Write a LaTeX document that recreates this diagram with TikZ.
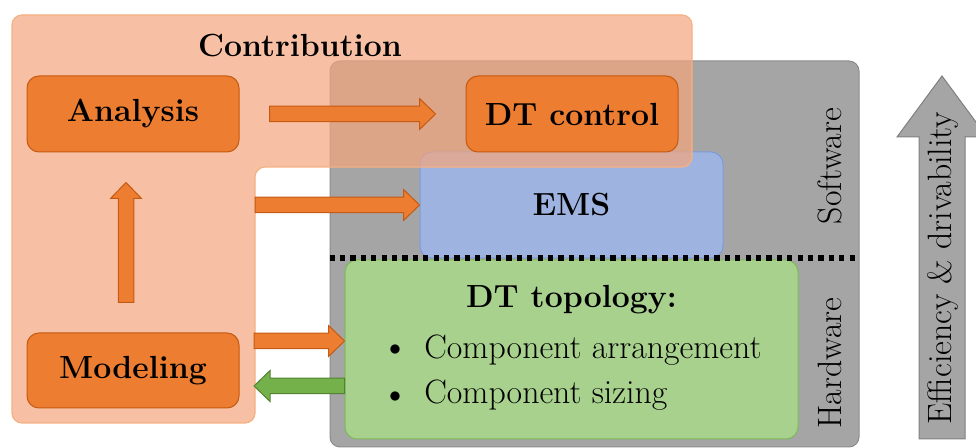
\documentclass[tikz,border=0pt]{standalone}
\usetikzlibrary{calc}

\definecolor{accent}{HTML}{ED7D31}
\definecolor{accentdark}{HTML}{C55A11}
\definecolor{contribfill}{RGB}{244,165,125}
\definecolor{contribline}{HTML}{F4B183}
\definecolor{layergray}{HTML}{A5A5A5}
\definecolor{layerline}{HTML}{8C8C8C}
\definecolor{emsfill}{HTML}{9FB3E0}
\definecolor{emsline}{HTML}{7B9CDB}
\definecolor{topofill}{HTML}{A9D18E}
\definecolor{topoline}{HTML}{7DBA58}
\definecolor{backfill}{HTML}{74B14A}
\definecolor{backline}{HTML}{548235}
\definecolor{bigline}{HTML}{7F7F7F}

% regular and bold text sizes
\newcommand\fsz{\fontsize{16.9pt}{20pt}\selectfont}
\newcommand\fszb{\fontsize{16pt}{19pt}\selectfont\bfseries}

% block arrow geometry (picture units)
\def\arrSW{7.75}
\def\arrHW{15.5}
\def\arrHL{16}

% horizontal block arrow: style, tail, tip, +1 = rightwards / -1 = leftwards
\newcommand\harrow[4]{%
  \draw[#1] ($(#2)+(0,-\arrSW)$) -- ($(#3)+({-\arrHL*#4},-\arrSW)$)
    -- ($(#3)+({-\arrHL*#4},-\arrHW)$) -- (#3)
    -- ($(#3)+({-\arrHL*#4},\arrHW)$) -- ($(#3)+({-\arrHL*#4},\arrSW)$)
    -- ($(#2)+(0,\arrSW)$) -- cycle;}
% vertical block arrow: style, tail, tip, +1 = downwards / -1 = upwards
\newcommand\varrow[4]{%
  \draw[#1] ($(#2)+(-\arrSW,0)$) -- ($(#3)+(-\arrSW,{-\arrHL*#4})$)
    -- ($(#3)+(-\arrHW,{-\arrHL*#4})$) -- (#3)
    -- ($(#3)+(\arrHW,{-\arrHL*#4})$) -- ($(#3)+(\arrSW,{-\arrHL*#4})$)
    -- ($(#2)+(\arrSW,0)$) -- cycle;}

\tikzset{
  orangebox/.style={draw=accentdark, fill=accent, line width=0.5pt,
    rounded corners=6pt, inner sep=0pt, font=\fszb},
  layerbox/.style={draw=layerline, fill=layergray, line width=0.5pt,
    rounded corners=5pt, inner sep=0pt},
  emsbox/.style={draw=emsline, fill=emsfill, line width=0.5pt,
    rounded corners=6pt, inner sep=0pt, font=\fszb},
  topobox/.style={draw=topoline, fill=topofill, line width=0.5pt,
    rounded corners=6pt, inner sep=0pt},
  contrib/.style={fill=contribfill, fill opacity=0.7, draw=contribline,
    line width=0.6pt, rounded corners=5pt},
  fwdarrow/.style={fill=accent, draw=accentdark, line width=0.5pt},
  backarrow/.style={fill=backfill, draw=backline, line width=0.5pt},
  bigarrow/.style={fill=layergray, draw=bigline, line width=0.5pt},
  sepline/.style={black, line width=2.6pt, dash pattern=on 2.6pt off 2.6pt},
  sidelabel/.style={rotate=90, font=\fsz, inner sep=0pt},
  itemdot/.style={inner sep=0pt, font=\fontsize{13pt}{15pt}\selectfont},
}

\begin{document}
\begin{tikzpicture}[x=0.5pt, y=-0.5pt, font=\fsz]
\useasboundingbox (0,0) rectangle (976,448);

% hardware / software layer
\node[layerbox, minimum width=264.5pt, minimum height=193pt] (hwsw) at (594.5,254) {};
\node[emsbox, minimum width=151.5pt, minimum height=53pt] (ems) at (571.5,205) {EMS};
\node[topobox, minimum width=226.5pt, minimum height=89.5pt] (topo) at (571.5,349.5) {};
\draw[sepline] ($(hwsw.west)+(0,4)$) -- ($(hwsw.east)+(0,4)$);

\node[sidelabel] (sw) at (830,166) {Software};
\node[sidelabel] (hw) at (830,363) {Hardware};

% DT topology contents
\node[font=\fszb, inner sep=0pt] (topotitle) at (571.5,300) {DT topology:};
\node[inner sep=0pt, anchor=west] (item1) at (424,350) {Component arrangement};
\node[inner sep=0pt, anchor=west] (item2) at (424,395) {Component sizing};
\node[itemdot] (b1) at (395,350) {$\bullet$};
\node[itemdot] (b2) at (395,397) {$\bullet$};

% contribution region
\draw[contrib] (12,15) -- (692,15) -- (692,167) -- (255,167) -- (255,423) -- (12,423) -- cycle;
\coordinate (inner) at (255,167);
\node[font=\fszb, inner sep=0pt] (contribtitle) at (300,46) {Contribution};

\node[orangebox, minimum width=106pt, minimum height=38pt] (analysis) at (133,114) {Analysis};
\node[orangebox, minimum width=106pt, minimum height=38pt] (dtctrl) at (572,114) {DT control};
\node[orangebox, minimum width=106pt, minimum height=37.5pt] (modeling) at (133,370.5) {Modeling};

% arrows between the blocks
\coordinate (a1s) at ($(analysis.east)+(30,0)$);
\coordinate (a1e) at ($(dtctrl.west)+(-30,0)$);
\harrow{fwdarrow}{a1s}{a1e}{1}

\coordinate (a2s) at ($(modeling.north)+(-7,-30)$);
\coordinate (a2e) at ($(analysis.south)+(-7,30)$);
\varrow{fwdarrow}{a2s}{a2e}{-1}

\coordinate (a3e) at (ems.west);
\coordinate (a3s) at (ems.west -| inner);
\harrow{fwdarrow}{a3s}{a3e}{1}

\coordinate (a4e) at ($(topo.west)+(0,-8.5)$);
\coordinate (a4s) at ($(a4e -| inner)+(-1,0)$);
\harrow{fwdarrow}{a4s}{a4e}{1}

\coordinate (a5s) at ($(topo.west)+(0,36.5)$);
\coordinate (a5e) at ($(a5s -| inner)+(-1,0)$);
\harrow{backarrow}{a5s}{a5e}{-1}

% efficiency arrow
\draw[bigarrow] (919,439) -- (919,137) -- (897,137) -- (942,76) -- (987,137) -- (965,137) -- (965,439) -- cycle;
\node[sidelabel] (eff) at (943,268) {Efficiency \& drivability};
\end{tikzpicture}
\end{document}
